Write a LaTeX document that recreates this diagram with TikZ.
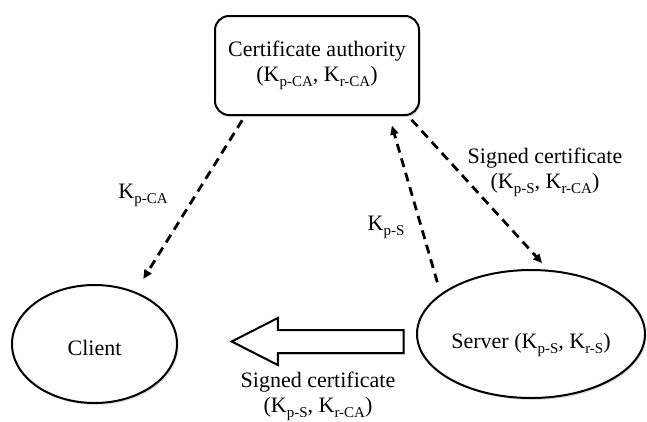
\documentclass[tikz,border=0pt]{standalone}
\usepackage{fontspec}
\setmainfont{Liberation Serif}
\usepackage{tikz}
\usetikzlibrary{shapes.geometric, shapes.arrows, arrows.meta, shadows}

\newcommand{\key}[1]{K\raisebox{-5pt}{\fontsize{15}{15}\selectfont #1}}

\begin{document}
\begin{tikzpicture}[
    x=1pt, y=-1pt,
    every node/.style={font=\fontsize{22}{25}\selectfont},
    softshadow/.style={drop shadow={shadow xshift=1.5pt, shadow yshift=-2pt, fill=black!25}},
    authority/.style={draw, line width=2pt, rounded corners=14pt, minimum width=204pt, minimum height=99pt, align=center, fill=white, softshadow},
    party/.style={draw, ellipse, line width=2pt, inner sep=0pt, fill=white, softshadow},
    keyflow/.style={-{Triangle[length=9pt,width=8pt]}, line width=2.8pt, dash pattern=on 9pt off 6pt},
    push/.style={single arrow, draw, line width=2pt, fill=white, inner xsep=0pt, inner ysep=10.5pt, minimum height=172pt, minimum width=45pt, single arrow head extend=12pt, single arrow tip angle=54, shape border rotate=180, softshadow},
    note/.style={align=center}
]
\useasboundingbox (0,0) rectangle (647,421);

% Nodes
\node[authority] (ca) at (317,65.5) {Certificate authority\\(\key{p-CA}, \key{r-CA})};
\node[party, minimum width=165pt, minimum height=118pt] (client) at (94.5,344) {\raisebox{-11pt}[0pt][0pt]{Client}};
\node[party, minimum width=228pt, minimum height=128pt] (server) at (531,334) {\raisebox{-14pt}[0pt][0pt]{Server (\key{p-S}, \key{r-S})}};

% Certificate handed to the client
\node[push] (handover) at (329,341.5) {};

% Key exchanges with the authority
\draw[keyflow, shorten <=5pt, shorten >=15pt] (ca.215.7) -- (client.52.7);
\draw[keyflow, shorten <=5pt, shorten >=9pt] (ca.331.2) -- (server.75.4);
\draw[keyflow, shorten <=12pt, shorten >=10pt] (server.156.7) -- (ca.325.2);

% Labels
\node (kpca) at (143,195) {\key{p-CA}};
\node (kps) at (386,227) {\key{p-S}};
\node[note] (signca) at (545,172) {Signed certificate\\(\key{p-S}, \key{r-CA})};
\node[note] (signsrv) at (318,396) {Signed certificate\\(\key{p-S}, \key{r-CA})};

\end{tikzpicture}
\end{document}
